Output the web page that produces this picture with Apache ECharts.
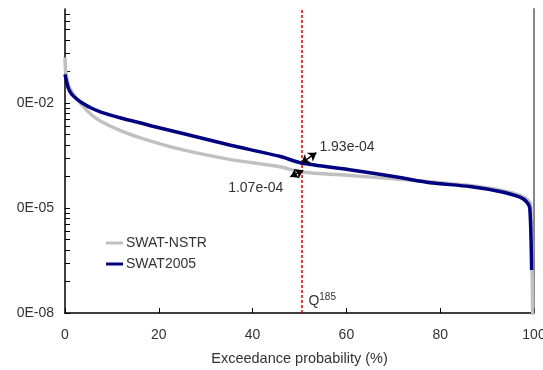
<!DOCTYPE html>
<html>
<head>
<meta charset="utf-8">
<script src="https://cdn.jsdelivr.net/npm/echarts@6/dist/echarts.min.js"></script>
<style>
  html, body { margin: 0; padding: 0; background: #fff; }
  #chart-container { width: 543px; height: 370px; }
</style>
</head>
<body>
<div id="chart-container"></div>
<script>
// 초과확률 (%) / 유량
const nstrProb = [0, 0.15, 0.72, 1.43, 3.6, 5.7, 7.8, 12.1, 16.4, 24.5, 35.1, 45.8, 50.4, 60.7, 71.4, 77.8, 86.3, 92.7, 97.0, 98.7, 99.3, 99.8];
const nstrFlow = [0.2, 0.078, 0.033, 0.021, 0.0088, 0.00454, 0.00292, 0.00158, 0.00098, 0.00048, 0.000245, 0.000151, 0.000107, 0.000085, 0.000066, 0.000056, 0.000044, 0.0000326, 0.000023, 0.000017, 0.0000123, 1e-9];

const swatProb = [0, 0.72, 1.43, 2.5, 3.6, 5.7, 7.8, 12.1, 16.4, 18.5, 26.0, 35.1, 45.8, 50.4, 60.7, 71.4, 77.8, 86.3, 92.7, 97.0, 98.4, 99.1, 99.5];
const swatFlow = [0.066, 0.0263, 0.0178, 0.013, 0.0102, 0.00706, 0.00542, 0.00366, 0.00263, 0.0022, 0.00126, 0.00063, 0.0003, 0.000193, 0.000124, 0.000074, 0.000053, 0.000041, 0.0000295, 0.0000204, 0.0000151, 0.00001, 1.7e-7];

const yLabelValues = [1e-8, 1e-5, 1e-2];
const xTicks = [0, 20, 40, 60, 80, 100];
const q185 = 50.4;
const qHigh = 0.000193;
const qLow = 0.000107;

const yMax = Math.pow(10, 0.686);
// excel 식 log 눈금 (base 1000, 보조눈금 k^3)
const yTickValues = [];
yLabelValues.forEach(function (b) {
  for (let k = 1; k <= 9; k++) {
    const v = b * k * k * k;
    if (v <= yMax) yTickValues.push(v);
  }
});

const font = "'Liberation Sans', Arial, sans-serif";
const textColor = '#333';

const chart = echarts.init(document.getElementById('chart-container'), null, { renderer: 'canvas' });

const option = {
  animation: false,
  textStyle: { fontFamily: font },
  grid: { left: 65, right: 9, top: 9, bottom: 57, outerBoundsMode: 'none' },
  legend: {
    left: 101,
    top: 231,
    orient: 'vertical',
    icon: 'rect',
    itemWidth: 17,
    itemHeight: 3,
    itemGap: 7,
    textStyle: { fontSize: 14, color: textColor, fontFamily: font, padding: [0, 0, 0, -2] },
    data: ['SWAT-NSTR', 'SWAT2005']
  },
  xAxis: {
    type: 'value',
    min: 0,
    max: 100,
    interval: 20,
    name: 'Exceedance probability (%)',
    nameLocation: 'middle',
    nameGap: 38,
    nameTextStyle: { fontSize: 14.5, color: textColor, fontFamily: font },
    axisLine: { lineStyle: { color: '#000', width: 1.5 } },
    axisTick: { inside: true, length: 5, lineStyle: { color: '#000' }, customValues: xTicks },
    axisLabel: { fontSize: 14, color: textColor, margin: 15, customValues: xTicks },
    splitLine: { show: false }
  },
  yAxis: [{
    type: 'log',
    min: 1e-8,
    max: yMax,
    axisLine: { show: true, lineStyle: { color: '#000', width: 1.5 } },
    axisTick: { show: true, inside: true, length: 5, lineStyle: { color: '#000' }, customValues: yTickValues },
    axisLabel: {
      fontSize: 14,
      color: textColor,
      margin: 11,
      customValues: yLabelValues,
      formatter: function (v) {
        const e = Math.round(Math.log10(v));
        return '0E-' + String(-e).padStart(2, '0');
      }
    },
    splitLine: { show: false }
  }, {
    type: 'log',
    position: 'right',
    min: 1e-8,
    max: yMax,
    axisLine: { show: true, lineStyle: { color: '#888', width: 2 } },
    axisTick: { show: false },
    axisLabel: { show: false },
    splitLine: { show: false }
  }],
  series: [{
    name: 'SWAT-NSTR',
    type: 'line',
    symbol: 'none',
    smooth: 0.25,
    color: '#c0c0c0',
    lineStyle: { width: 3.5, color: '#c0c0c0' },
    data: nstrProb.map(function (p, i) { return [p, nstrFlow[i]]; }),
    markLine: {
      silent: true,
      symbol: 'none',
      label: { show: false },
      lineStyle: { color: '#e00000', type: [3, 2], width: 1.5 },
      data: [{ xAxis: q185 }]
    },
    markPoint: {
      symbol: 'circle',
      symbolSize: 0,
      data: [{
        coord: [q185, 1e-8],
        label: {
          show: true,
          position: [7, -21],
          formatter: 'Q{s|185}',
          fontSize: 14,
          color: textColor,
          rich: { s: { fontSize: 10, color: textColor, padding: [0, 0, 9, 0] } }
        }
      }, {
        coord: [48.06, 7.8e-5],
        label: {
          show: true,
          position: [-7, 4],
          align: 'right',
          verticalAlign: 'top',
          formatter: qLow.toExponential(2).replace('e-', 'e-0'),
          fontSize: 14,
          color: textColor
        }
      }]
    }
  }, {
    name: 'SWAT2005',
    type: 'line',
    symbol: 'none',
    smooth: 0.25,
    color: '#000080',
    lineStyle: { width: 3.5, color: '#000080' },
    data: swatProb.map(function (p, i) { return [p, swatFlow[i]]; }),
    markLine: {
      silent: true,
      symbol: ['arrow', 'arrow'],
      symbolSize: 8,
      label: { show: false },
      lineStyle: { color: '#000', type: 'solid', width: 1.5 },
      data: [
        [{ coord: [q185, qHigh] }, { coord: [53.6, 3.8e-4] }],
        [{ coord: [50.8, 1.2e-4] }, { coord: [48.06, 7.8e-5] }]
      ]
    },
    markPoint: {
      symbol: 'circle',
      symbolSize: 0,
      data: [{
        coord: [53.6, 3.8e-4],
        label: {
          show: true,
          position: [3, -13],
          formatter: qHigh.toExponential(2).replace('e-', 'e-0'),
          fontSize: 14,
          color: textColor
        }
      }]
    }
  }]
};

chart.setOption(option);
window.addEventListener('resize', function () { chart.resize(); });
</script>
</body>
</html>
